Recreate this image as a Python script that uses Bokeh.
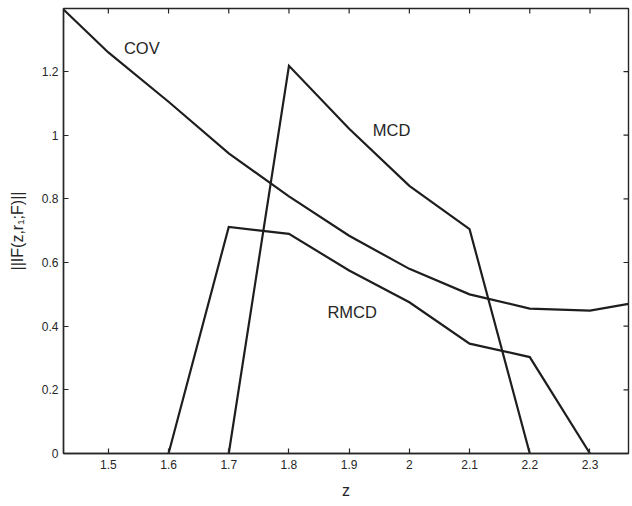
import math
from bokeh.plotting import figure
from bokeh.models import FixedTicker, Range1d, ColumnDataSource
from bokeh.core.properties import value
from bokeh.embed import file_html
from bokeh.resources import INLINE

# ---- data ----
cov_z = [1.4255, 1.5, 1.6, 1.7, 1.8, 1.9, 2.0, 2.1, 2.2, 2.3, 2.364]
cov_v = [1.395, 1.26, 1.105, 0.943, 0.808, 0.684, 0.58, 0.50, 0.455, 0.449, 0.470]

mcd_z = [1.7, 1.8, 1.9, 2.0, 2.1, 2.2]
mcd_v = [0.0, 1.218, 1.02, 0.841, 0.705, 0.0]

rmcd_z = [1.6, 1.7, 1.8, 1.9, 2.0, 2.1, 2.2, 2.3]
rmcd_v = [0.0, 0.712, 0.69, 0.575, 0.475, 0.345, 0.303, 0.0]

x_ticks = [1.5, 1.6, 1.7, 1.8, 1.9, 2.0, 2.1, 2.2, 2.3]
x_tick_labels = ["1.5", "1.6", "1.7", "1.8", "1.9", "2", "2.1", "2.2", "2.3"]
y_ticks = [0.0, 0.2, 0.4, 0.6, 0.8, 1.0, 1.2]
y_tick_labels = ["0", "0.2", "0.4", "0.6", "0.8", "1", "1.2"]

series_names = ["COV", "MCD", "RMCD"]
name_z = [1.5555, 1.9705, 1.905]
name_v = [1.273, 1.017, 0.443]

X_MIN, X_MAX = 1.4255, 2.364
Y_MIN, Y_MAX = 0.0, 1.398

FONT = "Liberation Sans"
INK = "#262626"
LINE = "#1e1e1e"

p = figure(width=632, height=506, output_backend="svg", toolbar_location=None,
           x_range=Range1d(X_MIN, X_MAX), y_range=Range1d(Y_MIN, Y_MAX),
           min_border_left=63, min_border_right=4, min_border_top=8,
           min_border_bottom=53, background_fill_color="white",
           border_fill_color="white")
p.grid.visible = False
p.outline_line_color = INK
p.outline_line_width = 1.4

for zs, vs in [(cov_z, cov_v), (mcd_z, mcd_v), (rmcd_z, rmcd_v)]:
    p.line(zs, vs, line_color=LINE, line_width=2.2, line_join="miter")

src = ColumnDataSource(dict(x=name_z, y=name_v, t=series_names))
p.text(x="x", y="y", text="t", source=src, text_align="center",
       text_baseline="middle", text_font=value(FONT), text_font_size="16.5px",
       text_color=INK)

# mirrored inward ticks on the top and right edges of the frame
p.ray(x=x_ticks, y=[Y_MAX] * len(x_ticks), length=5, length_units="screen",
      angle=-math.pi / 2, line_color=INK, line_width=1.2)
p.ray(x=[X_MAX] * len(y_ticks), y=y_ticks, length=5, length_units="screen",
      angle=math.pi, line_color=INK, line_width=1.2)


def style_axis(ax, ticks, labels):
    ax.ticker = FixedTicker(ticks=ticks)
    ax.minor_tick_line_color = None
    ax.major_tick_in = 5
    ax.major_tick_out = 0
    ax.major_tick_line_color = INK
    ax.major_tick_line_width = 1.2
    ax.axis_line_color = INK
    ax.axis_line_width = 1.4
    ax.major_label_overrides = {t: l for t, l in zip(ticks, labels)}
    ax.major_label_text_font = FONT
    ax.major_label_text_font_size = "12px"
    ax.major_label_text_color = INK


xa = p.xaxis[0]
style_axis(xa, x_ticks, x_tick_labels)
xa.major_label_standoff = 6
xa.axis_label = "z"
xa.axis_label_text_font = FONT
xa.axis_label_text_font_style = "normal"
xa.axis_label_text_font_size = "16px"
xa.axis_label_text_color = INK
xa.axis_label_standoff = 10

ya = p.yaxis[0]
style_axis(ya, y_ticks, y_tick_labels)
ya.major_label_standoff = 5
ya.axis_label = "||IF(z,r\u2081;F)||"
ya.axis_label_text_font = FONT
ya.axis_label_text_font_style = "normal"
ya.axis_label_text_font_size = "16px"
ya.axis_label_text_color = INK
ya.axis_label_standoff = 13

open("out.html", "w").write(file_html(p, INLINE))
